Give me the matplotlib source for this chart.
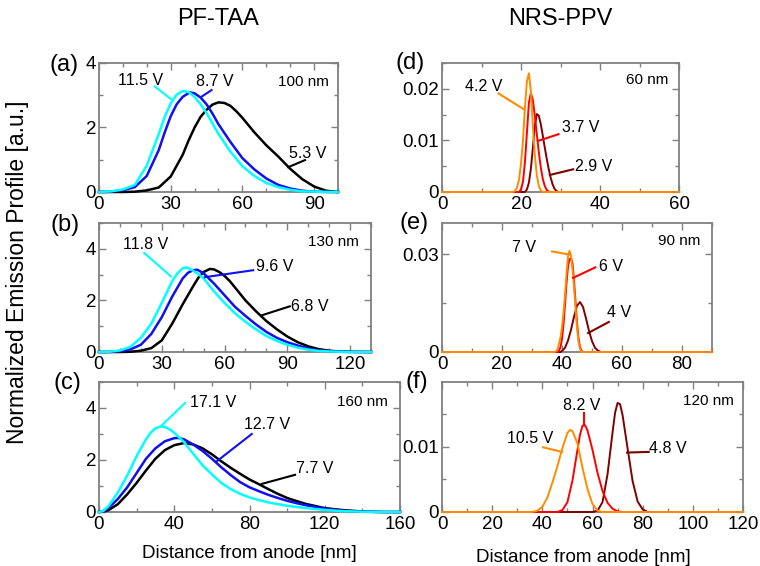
import matplotlib
matplotlib.use('Agg')
import matplotlib.pyplot as plt
from matplotlib.ticker import MultipleLocator, FuncFormatter

plt.rcParams['font.family'] = ['Liberation Sans', 'DejaVu Sans']

# ---- data (distance [nm], emission [a.u.]) ----
# (a) PF-TAA 100 nm
a_black_x = [0, 10, 15, 20, 25, 30, 35, 37.5, 40, 42.5, 45, 47.5, 50, 52.5, 55, 57.5, 60, 65, 70, 75, 80, 85, 90, 95, 100]
a_black_y = [0, 0, 0.01, 0.05, 0.14, 0.48, 1.15, 1.6, 2.0, 2.33, 2.55, 2.71, 2.78, 2.76, 2.67, 2.5, 2.3, 1.85, 1.45, 1.1, 0.72, 0.4, 0.17, 0.04, 0]
a_blue_x = [0, 5, 10, 15, 20, 25, 27.5, 30, 32.5, 35, 38, 40, 42.5, 45, 47.5, 50, 55, 60, 65, 70, 75, 80, 85, 90, 95, 100]
a_blue_y = [0, 0.01, 0.06, 0.15, 0.5, 1.3, 1.85, 2.35, 2.72, 2.95, 3.09, 3.06, 2.93, 2.72, 2.43, 2.1, 1.55, 1.05, 0.7, 0.42, 0.22, 0.11, 0.04, 0.01, 0, 0]
a_cyan_x = [0, 5, 10, 15, 20, 25, 27.5, 30, 32.5, 35, 37.5, 40, 42.5, 45, 50, 55, 60, 65, 70, 75, 80, 85, 90, 100]
a_cyan_y = [0, 0.02, 0.08, 0.22, 0.82, 1.8, 2.33, 2.75, 3.02, 3.13, 3.1, 2.95, 2.72, 2.45, 1.8, 1.25, 0.8, 0.5, 0.28, 0.15, 0.07, 0.02, 0.01, 0]

# (b) PF-TAA 130 nm
b_black_x = [0, 10, 15, 20, 25, 30, 35, 40, 45, 47.5, 50, 53, 55, 57.5, 60, 62.5, 65, 70, 75, 80, 85, 90, 95, 100, 105, 110, 115, 120, 130]
b_black_y = [0, 0, 0.01, 0.05, 0.15, 0.45, 1.1, 1.85, 2.55, 2.88, 3.1, 3.22, 3.2, 3.1, 2.95, 2.75, 2.5, 2.0, 1.58, 1.2, 0.88, 0.6, 0.38, 0.22, 0.11, 0.05, 0.02, 0.01, 0]
b_blue_x = [0, 5, 10, 15, 20, 25, 30, 35, 40, 42.5, 45, 47, 50, 55, 60, 65, 70, 75, 80, 85, 90, 95, 100, 105, 110, 115, 120, 130]
b_blue_y = [0, 0, 0.03, 0.1, 0.28, 0.7, 1.35, 2.15, 2.85, 3.07, 3.17, 3.19, 3.05, 2.65, 2.2, 1.75, 1.4, 1.07, 0.78, 0.55, 0.38, 0.25, 0.14, 0.06, 0.03, 0.01, 0, 0]
b_cyan_x = [0, 5, 10, 15, 20, 25, 30, 35, 37.5, 40, 42, 45, 47.5, 50, 55, 60, 65, 70, 75, 80, 85, 90, 95, 100, 105, 110, 115, 120, 130]
b_cyan_y = [0, 0.01, 0.06, 0.2, 0.55, 1.1, 1.9, 2.75, 3.05, 3.25, 3.28, 3.15, 3.02, 2.85, 2.35, 1.9, 1.5, 1.17, 0.88, 0.62, 0.43, 0.28, 0.17, 0.09, 0.04, 0.02, 0.01, 0, 0]

# (c) PF-TAA 160 nm
c_black_x = [0, 2, 5, 10, 15, 20, 25, 30, 35, 40, 45, 50, 55, 60, 65, 70, 75, 80, 85, 90, 95, 100, 105, 110, 120, 130, 140, 150, 160]
c_black_y = [0, 0.01, 0.07, 0.3, 0.68, 1.12, 1.6, 2.05, 2.38, 2.57, 2.65, 2.6, 2.45, 2.22, 1.95, 1.7, 1.47, 1.25, 1.07, 0.88, 0.7, 0.54, 0.42, 0.31, 0.15, 0.07, 0.02, 0, 0]
c_blue_x = [0, 2, 5, 10, 15, 20, 25, 30, 35, 40, 42, 45, 50, 55, 60, 65, 70, 75, 80, 85, 90, 95, 100, 105, 110, 120, 130, 140, 150, 160]
c_blue_y = [0, 0.02, 0.15, 0.5, 0.95, 1.5, 2.05, 2.45, 2.72, 2.84, 2.85, 2.8, 2.6, 2.35, 2.05, 1.72, 1.42, 1.15, 0.95, 0.8, 0.66, 0.54, 0.43, 0.34, 0.26, 0.13, 0.05, 0.01, 0, 0]
c_cyan_x = [0, 2, 5, 10, 15, 20, 25, 27.5, 30, 33, 35, 37.5, 40, 45, 50, 55, 60, 65, 70, 75, 80, 85, 90, 95, 100, 110, 120, 130, 140, 150, 160]
c_cyan_y = [0, 0.03, 0.22, 0.75, 1.4, 2.15, 2.8, 3.05, 3.22, 3.29, 3.27, 3.18, 3.05, 2.7, 2.25, 1.8, 1.45, 1.12, 0.88, 0.7, 0.56, 0.46, 0.37, 0.3, 0.24, 0.15, 0.08, 0.03, 0.01, 0, 0]

# (d) NRS-PPV 60 nm
d_orange_x = [0, 18, 18.5, 19, 19.5, 20, 20.5, 21, 21.5, 22, 22.5, 23, 23.5, 24, 24.5, 25, 25.5, 60]
d_orange_y = [0, 0, 0.0002, 0.0009, 0.0024, 0.0055, 0.010, 0.0165, 0.0215, 0.023, 0.0195, 0.0128, 0.0072, 0.0033, 0.0012, 0.0003, 0, 0]
d_red_x = [0, 19.5, 20, 20.5, 21, 21.5, 22, 22.5, 23, 23.5, 24, 24.5, 25, 25.5, 26, 26.5, 27, 27.5, 60]
d_red_y = [0, 0, 0.0005, 0.002, 0.0058, 0.0115, 0.0173, 0.0192, 0.0178, 0.0148, 0.0112, 0.0078, 0.0048, 0.0026, 0.0012, 0.0004, 0.0001, 0, 0]
d_dark_x = [0, 21, 21.5, 22, 22.5, 23, 23.5, 24, 24.5, 25, 25.5, 26, 26.5, 27, 27.5, 28, 28.5, 29, 29.5, 60]
d_dark_y = [0, 0, 0.0005, 0.0018, 0.0045, 0.0085, 0.0128, 0.0151, 0.0148, 0.0132, 0.011, 0.0087, 0.0065, 0.0045, 0.0028, 0.0015, 0.0006, 0.0002, 0, 0]

# (e) NRS-PPV 90 nm
e_orange_x = [0, 37.5, 38, 38.5, 39, 39.5, 40, 40.5, 41, 41.5, 42, 42.5, 43, 43.5, 44, 44.5, 45, 45.5, 46, 46.5, 90]
e_orange_y = [0, 0, 0.0002, 0.0008, 0.0025, 0.0045, 0.0075, 0.012, 0.0175, 0.024, 0.0293, 0.031, 0.0295, 0.0255, 0.02, 0.0135, 0.0075, 0.0032, 0.001, 0, 0]
e_red_x = [0, 38.5, 39, 39.5, 40, 40.5, 41, 41.5, 42, 42.5, 43, 43.5, 44, 44.5, 45, 45.5, 46, 46.5, 47, 90]
e_red_y = [0, 0, 0.0004, 0.0015, 0.004, 0.0085, 0.0145, 0.021, 0.0262, 0.0285, 0.0286, 0.0272, 0.022, 0.0155, 0.009, 0.0042, 0.0015, 0.0004, 0, 0]
e_dark_x = [0, 39.5, 40, 41, 42, 43, 44, 45, 46, 47, 48, 49, 50, 51, 52, 53, 90]
e_dark_y = [0, 0, 0.0003, 0.0013, 0.0035, 0.0068, 0.0108, 0.0142, 0.0153, 0.0138, 0.0103, 0.0065, 0.0033, 0.0013, 0.0004, 0, 0]

# (f) NRS-PPV 120 nm
f_orange_x = [0, 36, 38, 40, 42, 44, 46, 48, 50, 51, 52, 54, 56, 58, 60, 62, 64, 120]
f_orange_y = [0, 0, 0.0002, 0.0008, 0.0022, 0.0045, 0.007, 0.0098, 0.0121, 0.01255, 0.0124, 0.0105, 0.0068, 0.0035, 0.0012, 0.0002, 0, 0]
f_red_x = [0, 46, 48, 50, 52, 54, 55, 56, 57, 58, 60, 62, 64, 66, 68, 70, 72, 120]
f_red_y = [0, 0, 0.0003, 0.0015, 0.0048, 0.0095, 0.0118, 0.0132, 0.0133, 0.0125, 0.0095, 0.006, 0.0032, 0.0014, 0.0005, 0.0001, 0, 0]
f_dark_x = [0, 60, 62, 64, 66, 68, 69, 70, 71, 72, 74, 76, 78, 80, 82, 120]
f_dark_y = [0, 0, 0.0002, 0.0015, 0.0058, 0.0122, 0.0152, 0.0167, 0.0165, 0.0148, 0.0097, 0.0047, 0.0016, 0.0004, 0, 0]

left_voltages = [['5.3 V', '8.7 V', '11.5 V'], ['6.8 V', '9.6 V', '11.8 V'], ['7.7 V', '12.7 V', '17.1 V']]
right_voltages = [['2.9 V', '3.7 V', '4.2 V'], ['4 V', '6 V', '7 V'], ['4.8 V', '8.2 V', '10.5 V']]
thickness = ['100 nm', '130 nm', '160 nm', '60 nm', '90 nm', '120 nm']
panel_names = ['(a)', '(b)', '(c)', '(d)', '(e)', '(f)']

LEFT_COLORS = ['black', '#1010f0', '#00ffff']
RIGHT_COLORS = ['#800000', '#ff0000', '#ff8c00']
SPINE = '#808080'

W, H = 760, 566
fig = plt.figure(figsize=(W / 100, H / 100), dpi=100)


def add_ax(l, r, t, b):
    return fig.add_axes([l / W, 1 - b / H, (r - l) / W, (b - t) / H])


# pixel boxes (left, right, top, bottom)
boxes = [(99, 338, 63, 192), (99, 371, 223, 352), (99, 400, 382, 512),
         (442, 679, 63, 192), (442, 712, 223, 352), (442, 743, 382, 512)]
xlims = [100, 130, 160, 60, 90, 120]
ylims = [4, 5, 5, 0.025, 0.0395, 0.0199]
xmaj = [30, 30, 40, 20, 20, 20]
xmin = [10, 10, 20, 10, 10, 10]
ymaj = [2, 2, 2, 0.01, 0.03, 0.01]
ymin = [1, 1, 1, 0.005, 0.015, 0.005]

series = [
    [(a_black_x, a_black_y), (a_blue_x, a_blue_y), (a_cyan_x, a_cyan_y)],
    [(b_black_x, b_black_y), (b_blue_x, b_blue_y), (b_cyan_x, b_cyan_y)],
    [(c_black_x, c_black_y), (c_blue_x, c_blue_y), (c_cyan_x, c_cyan_y)],
    [(d_dark_x, d_dark_y), (d_red_x, d_red_y), (d_orange_x, d_orange_y)],
    [(e_dark_x, e_dark_y), (e_red_x, e_red_y), (e_orange_x, e_orange_y)],
    [(f_dark_x, f_dark_y), (f_red_x, f_red_y), (f_orange_x, f_orange_y)],
]

# label placement: (text x, text y, line start, line end) per curve, in data units
labels = [
    [(87.2, 1.2, (86.2, 0.99), (79.2, 0.77)), (48.5, 3.42, (47.1, 3.16), (43.0, 2.96)), (17.2, 3.47, (23.4, 3.27), (30.1, 2.88))],
    [(100.8, 1.78, (91.2, 1.77), (77.7, 1.42)), (84.0, 3.32, (73.7, 3.17), (50.6, 2.9)), (22.3, 4.15, (21.6, 3.84), (34.4, 2.93))],
    [(114.4, 1.67, (104.2, 1.43), (86.5, 1.08)), (89.1, 3.36, (81.2, 3.0), (62.6, 1.95)), (60.8, 4.23, (45.7, 4.19), (33.3, 3.33))],
    [(38.3, 0.0049, (33.2, 0.0044), (27.3, 0.0033)), (35.1, 0.0125, (29.5, 0.0112), (24.3, 0.0099)), (10.5, 0.0204, (14.3, 0.0191), (20.8, 0.016))],
    [(59.1, 0.0122, (55.6, 0.0092), (48.7, 0.0058)), (56.4, 0.0262, (51.1, 0.0259), (43.7, 0.0227)), (27.5, 0.0319, (36.7, 0.0308), (42.6, 0.0298))],
    [(90.0, 0.0097, (82.4, 0.0092), (73.8, 0.0091)), (55.5, 0.0163, (56.5, 0.0151), (56.5, 0.0133)), (35.2, 0.0113, (40.3, 0.0099), (47.8, 0.0092))],
]
nm_pos = [(85.5, 3.4), (111.9, 4.25), (140, 4.23), (52, 0.0217), (79, 0.0339), (106.2, 0.017)]
letter_px = [(64, 65), (65, 225), (67, 383), (410, 63), (414, 223), (417, 382)]

volts = left_voltages + right_voltages
for i in range(6):
    ax = add_ax(*boxes[i])
    cols = LEFT_COLORS if i < 3 else RIGHT_COLORS
    lw = 1.8 if i < 3 else 1.4
    for j, (xs, ys) in enumerate(series[i]):
        ax.plot(xs, ys, color=cols[j], lw=lw, clip_on=False, zorder=3)
    for j, (tx, ty, p0, p1) in enumerate(labels[i]):
        ax.plot([p0[0], p1[0]], [p0[1], p1[1]], color=cols[j], lw=1.5, zorder=4)
        ax.text(tx, ty, volts[i][j], ha='center', va='center', fontsize=11.5)
    ax.text(nm_pos[i][0], nm_pos[i][1], thickness[i], ha='center', va='center', fontsize=11)

    ax.set_xlim(0, xlims[i])
    ax.set_ylim(0, ylims[i])
    ax.xaxis.set_major_locator(MultipleLocator(xmaj[i]))
    ax.xaxis.set_minor_locator(MultipleLocator(xmin[i]))
    ax.yaxis.set_major_locator(MultipleLocator(ymaj[i]))
    ax.yaxis.set_minor_locator(MultipleLocator(ymin[i]))
    ax.tick_params(which='both', direction='in', top=True, right=True, color=SPINE,
                   labelsize=13.5)
    ax.tick_params(axis='x', pad=3)
    ax.tick_params(axis='y', pad=2)
    ax.tick_params(which='major', length=5, width=1)
    ax.tick_params(which='minor', length=3, width=1)
    if i >= 3:
        ax.yaxis.set_major_formatter(FuncFormatter(lambda v, p: '0' if v == 0 else '%g' % v))
    for s in ax.spines.values():
        s.set_color(SPINE)
        s.set_linewidth(1.3)

    fig.text(letter_px[i][0] / W, 1 - letter_px[i][1] / H, panel_names[i],
             ha='center', va='center', fontsize=17)

fig.text(218 / W, 1 - 19 / H, 'PF-TAA', ha='center', va='center', fontsize=17)
fig.text(560 / W, 1 - 19 / H, 'NRS-PPV', ha='center', va='center', fontsize=17)
fig.text(18 / W, 1 - 272 / H, 'Normalized Emission Profile [a.u.]', rotation=90,
         ha='center', va='center', fontsize=16.5)
fig.text(249 / W, 1 - 554 / H, 'Distance from anode [nm]', ha='center', va='center', fontsize=13.5)
fig.text(583 / W, 1 - 557 / H, 'Distance from anode [nm]', ha='center', va='center', fontsize=13.5)

fig.savefig('out.png', dpi=100)
